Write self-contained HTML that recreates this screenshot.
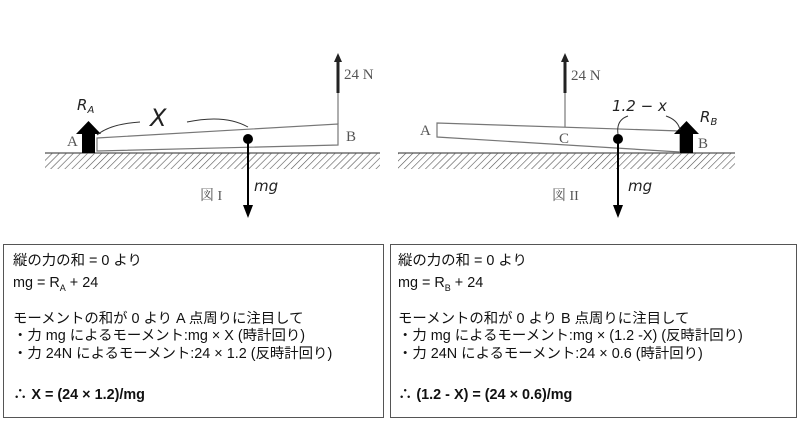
<!DOCTYPE html>
<html><head><meta charset="utf-8"><style>
html,body{margin:0;padding:0;background:#fff;}
svg{display:block}
.t{font-family:"Liberation Sans","Noto Sans CJK JP",sans-serif;font-size:14.4px;fill:#111}
.s{font-family:"Liberation Serif","Noto Serif CJK SC",serif;font-size:15px;fill:#555}
.i{font-family:"DejaVu Sans",sans-serif;font-style:italic;font-size:15px;fill:#222}
</style></head><body>
<svg width="800" height="434" viewBox="0 0 800 434" xmlns="http://www.w3.org/2000/svg">
<defs>
<pattern id="h" width="5" height="5" patternUnits="userSpaceOnUse" patternTransform="rotate(45)">
<line x1="0" y1="0" x2="0" y2="5" stroke="#555" stroke-width="1.2"/>
</pattern>
</defs>
<!-- Figure I -->
<rect x="45" y="153" width="335" height="16" fill="url(#h)"/>
<line x1="45" y1="153" x2="380" y2="153" stroke="#555" stroke-width="1.2"/>
<polygon points="97,138 338,124 338,145 97,151" fill="#fff" stroke="#777" stroke-width="1.2"/>
<line x1="338" y1="124" x2="338" y2="93" stroke="#777" stroke-width="1.2"/>
<line x1="338" y1="93" x2="338" y2="60" stroke="#222" stroke-width="3"/>
<polygon points="334,62 342,62 338,53" fill="#222"/>
<text x="344" y="79" class="s">24 N</text>
<text x="346" y="141" class="s">B</text>
<text x="67" y="146" class="s">A</text>
<rect x="82" y="132" width="13" height="21" fill="#000"/>
<polygon points="76,134 101,134 88.5,121" fill="#000"/>
<text x="77" y="110" class="i">R<tspan style="font-size:10px" dy="3">A</tspan></text>
<text x="150" y="126" style="font-family:'DejaVu Sans',sans-serif;font-style:italic;font-size:24px;fill:#222">X</text>
<path d="M97,135 Q110,124 140,122" fill="none" stroke="#333" stroke-width="1"/>
<path d="M187,122 Q225,114 248,127" fill="none" stroke="#333" stroke-width="1"/>
<circle cx="248" cy="139" r="5" fill="#000"/>
<line x1="248" y1="139" x2="248" y2="207" stroke="#000" stroke-width="2"/>
<polygon points="243,205 253,205 248,218" fill="#000"/>
<text x="254" y="191" class="i">mg</text>
<text x="200" y="200" class="s" style="font-size:14px">図 I</text>
<!-- Figure II -->
<rect x="398" y="153" width="337" height="16" fill="url(#h)"/>
<line x1="398" y1="153" x2="735" y2="153" stroke="#555" stroke-width="1.2"/>
<polygon points="437,123 680,131 680,152 437,137" fill="#fff" stroke="#777" stroke-width="1.2"/>
<line x1="565" y1="127" x2="565" y2="93" stroke="#777" stroke-width="1.2"/>
<line x1="565" y1="93" x2="565" y2="60" stroke="#222" stroke-width="3"/>
<polygon points="561,62 569,62 565,53" fill="#222"/>
<text x="571" y="80" class="s">24 N</text>
<text x="420" y="135" class="s">A</text>
<text x="559" y="143" class="s">C</text>
<text x="698" y="148" class="s">B</text>
<rect x="680" y="132" width="13" height="21" fill="#000"/>
<polygon points="674,134 699,134 686.5,121" fill="#000"/>
<text x="700" y="122" class="i">R<tspan style="font-size:10px" dy="3">B</tspan></text>
<text x="612" y="111" class="i">1.2 − x</text>
<path d="M618,134 Q616,120 628,116" fill="none" stroke="#333" stroke-width="1"/>
<path d="M666,116 Q678,120 680,130" fill="none" stroke="#333" stroke-width="1"/>
<circle cx="618" cy="139" r="5" fill="#000"/>
<line x1="618" y1="139" x2="618" y2="207" stroke="#000" stroke-width="2"/>
<polygon points="613,205 623,205 618,218" fill="#000"/>
<text x="628" y="191" class="i">mg</text>
<text x="552" y="200" class="s" style="font-size:14px">図 II</text>
<!-- Boxes -->
<rect x="3.5" y="244.5" width="380" height="173" fill="none" stroke="#555" stroke-width="1"/>
<rect x="390.5" y="244.5" width="406" height="173" fill="none" stroke="#555" stroke-width="1"/>
<g class="t">
<text x="13" y="265">縦の力の和 = 0 より</text>
<text x="13" y="287">mg = R<tspan style="font-size:9px" dy="4">A</tspan><tspan dy="-4"> + 24</tspan></text>
<text x="13" y="323">モーメントの和が 0 より  A 点周りに注目して</text>
<text x="13" y="340">・力 mg によるモーメント:mg × X (時計回り)</text>
<text x="13" y="358">・力 24N によるモーメント:24 × 1.2 (反時計回り)</text>
<text x="13" y="399" font-weight="bold">∴ X = (24 × 1.2)/mg</text>
<text x="398" y="265">縦の力の和 = 0 より</text>
<text x="398" y="287">mg = R<tspan style="font-size:9px" dy="4">B</tspan><tspan dy="-4"> + 24</tspan></text>
<text x="398" y="323">モーメントの和が 0 より  B 点周りに注目して</text>
<text x="398" y="340">・力 mg によるモーメント:mg × (1.2 -X) (反時計回り)</text>
<text x="398" y="358">・力 24N によるモーメント:24 × 0.6 (時計回り)</text>
<text x="398" y="399" font-weight="bold">∴ (1.2 - X) = (24 × 0.6)/mg</text>
</g>
</svg>
</body></html>
